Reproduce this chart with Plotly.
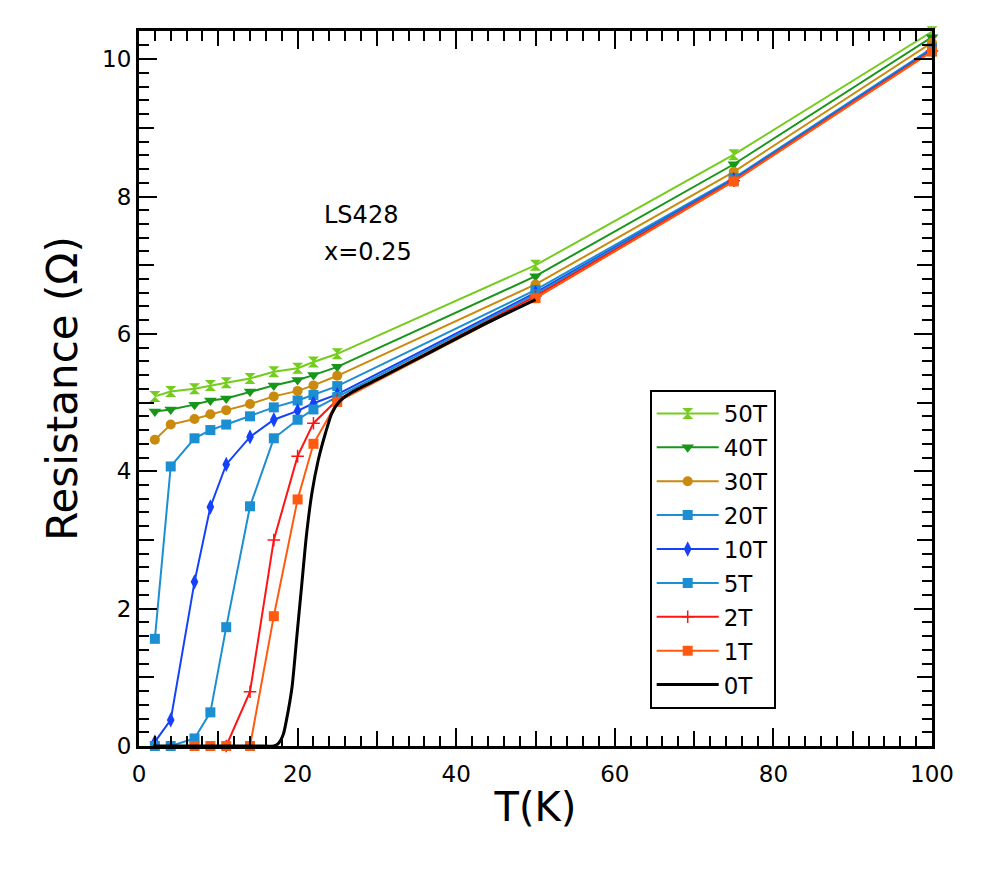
import plotly.graph_objects as go

T_fields = [2, 4, 7, 9, 11, 14, 17, 20, 22, 25, 50, 75, 100]
R_50T = [5.09, 5.16, 5.20, 5.25, 5.29, 5.35, 5.45, 5.50, 5.59, 5.71, 7.00, 8.61, 10.40]
R_40T = [4.87, 4.90, 4.97, 5.03, 5.06, 5.16, 5.25, 5.33, 5.40, 5.52, 6.84, 8.47, 10.32]
R_30T = [4.46, 4.68, 4.76, 4.83, 4.89, 4.98, 5.09, 5.17, 5.25, 5.39, 6.72, 8.36, 10.24]
R_20T = [1.56, 4.07, 4.48, 4.60, 4.68, 4.80, 4.93, 5.03, 5.11, 5.24, 6.64, 8.27, 10.16]
R_10T = [0.06, 0.38, 2.39, 3.48, 4.10, 4.50, 4.75, 4.88, 4.99, 5.12, 6.60, 8.25, 10.14]
R_5T = [0.0, 0.0, 0.11, 0.49, 1.73, 3.49, 4.48, 4.75, 4.90, 5.08, 6.58, 8.24, 10.13]
T_2T = [11, 14, 17, 20, 22, 25, 50, 75, 100]
R_2T = [0.0, 0.79, 3.00, 4.22, 4.70, 5.04, 6.55, 8.23, 10.12]
T_1T = [7, 9, 11, 14, 17, 20, 22, 25, 50, 75, 100]
R_1T = [0.0, 0.0, 0.0, 0.0, 1.89, 3.59, 4.40, 5.01, 6.52, 8.22, 10.11]
T_0T = [1.8, 5, 10, 15, 17.0, 17.6, 18.2, 18.6, 19.3, 19.9, 20.5, 21.1, 21.8, 22.6,
        23.5, 24.3, 25.3, 27.0, 30.4, 37.0, 43.0, 50.0]
R_0T = [0.0, 0.0, 0.0, 0.0, 0.0, 0.04, 0.17, 0.38, 0.86, 1.59, 2.32, 3.05, 3.68, 4.16,
        4.55, 4.84, 5.02, 5.16, 5.36, 5.75, 6.11, 6.50]

series = [
    ("50T", T_fields, R_50T, "#74CC1C", "hourglass", 11),
    ("40T", T_fields, R_40T, "#17961A", "triangle-down", 11),
    ("30T", T_fields, R_30T, "#C98A0E", "circle", 10),
    ("20T", T_fields, R_20T, "#1C8ED2", "square", 10),
    ("10T", T_fields, R_10T, "#1442FA", "diamond-tall", 11),
    ("5T", T_fields, R_5T, "#1C8ED2", "square", 10),
    ("2T", T_2T, R_2T, "#FF1414", "cross-thin", 9),
    ("1T", T_1T, R_1T, "#FF5A0F", "square", 10),
]

FONT = "DejaVu Sans"
fig = go.Figure()
for i, (name, tx, ry, col, sym, sz) in enumerate(series):
    fig.add_trace(go.Scatter(
        x=tx, y=ry, name=name, mode="lines+markers", legendgroup=name,
        line=dict(color=col, width=2),
        marker=dict(symbol=sym, size=sz, color=col,
                    line=dict(color=col, width=1.5 if sym == "cross-thin" else 0)),
        cliponaxis=False,
    ))
fig.add_trace(go.Scatter(
    x=T_0T, y=R_0T, name="0T", mode="lines", legendgroup="0T",
    line=dict(color="black", width=3, shape="spline", smoothing=0.6),
))

axis_common = dict(
    showline=True, linecolor="black", linewidth=3, mirror="ticks",
    ticks="inside", tickcolor="black", tickwidth=2,
    showgrid=False, zeroline=False,
    tickfont=dict(family=FONT, size=23, color="black"),
)

fig.update_layout(
    width=1003, height=871,
    margin=dict(l=139, r=71, t=31, b=125),
    paper_bgcolor="white", plot_bgcolor="white",
    font=dict(family=FONT, color="black"),
    xaxis=dict(range=[0, 100], dtick=20, ticklen=18, ticklabelstandoff=5,
               minor=dict(dtick=2, ticklen=10, ticks="inside", tickcolor="black", tickwidth=2),
               title=dict(text="T(K)", font=dict(family=FONT, size=40), standoff=8),
               **axis_common),
    yaxis=dict(range=[0, 10.41], dtick=2, ticklen=18,
               minor=dict(dtick=0.2, ticklen=10, ticks="inside", tickcolor="black", tickwidth=2),
               title=dict(text="Resistance (Ω)", font=dict(family=FONT, size=42), standoff=12),
               **axis_common),
    xaxis2=dict(overlaying="x", matches="x", range=[0, 100], side="bottom",
                tickvals=[10, 30, 50, 70, 90], ticks="inside", ticklen=15, tickwidth=2,
                tickcolor="black", showticklabels=False, showline=False, mirror="ticks",
                showgrid=False, zeroline=False),
    yaxis2=dict(overlaying="y", matches="y", range=[0, 10.41], side="left",
                tickvals=[1, 3, 5, 7, 9], ticks="inside", ticklen=15, tickwidth=2,
                tickcolor="black", showticklabels=False, showline=False, mirror="ticks",
                showgrid=False, zeroline=False),
    legend=dict(x=0.644, y=0.498, xanchor="left", yanchor="top",
                bordercolor="black", borderwidth=2, bgcolor="white",
                font=dict(family=FONT, size=23, color="black"),
                traceorder="grouped", tracegroupgap=1, itemwidth=62),
    showlegend=True,
)
# invisible trace to activate the secondary (medium tick) axes
fig.add_trace(go.Scatter(x=[None], y=[None], xaxis="x2", yaxis="y2",
                         showlegend=False, hoverinfo="skip"))

fig.add_annotation(x=23.1, y=7.96, xref="x", yref="y", text="LS428",
                   showarrow=False, xanchor="left", yanchor="top",
                   font=dict(family=FONT, size=24, color="black"))
fig.add_annotation(x=23.1, y=7.42, xref="x", yref="y", text="x=0.25",
                   showarrow=False, xanchor="left", yanchor="top",
                   font=dict(family=FONT, size=24, color="black"))

fig.write_html("out.html")
